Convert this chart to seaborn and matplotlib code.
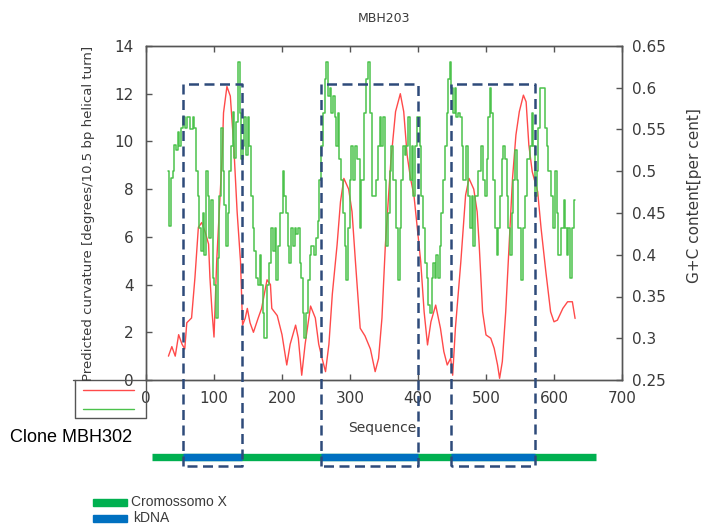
import numpy as np
import pandas as pd
import seaborn as sns
import matplotlib.pyplot as plt
from matplotlib import transforms
from matplotlib.lines import Line2D
from matplotlib.patches import Rectangle

sns.set_theme(style="white")
plt.rcParams['font.family'] = ['DejaVu Sans']

# ---------------- text ----------------
TITLE = "MBH203"
X_LABEL = "Sequence"
Y_LEFT_LABEL = "Predicted curvature [degrees/10.5 bp helical turn]"
Y_RIGHT_LABEL = "G+C content[per cent]"
CLONE_LABEL = "Clone MBH302"
LEGEND_LABELS = ["Cromossomo X", "kDNA"]

# ---------------- ticks ----------------
x_ticks = [0, 100, 200, 300, 400, 500, 600, 700]
left_ticks = [0, 2, 4, 6, 8, 10, 12, 14]
right_ticks = [0.25, 0.30, 0.35, 0.40, 0.45, 0.50, 0.55, 0.60, 0.65]
right_tick_labels = ["0.25", "0.3", "0.35", "0.4", "0.45", "0.5", "0.55", "0.6", "0.65"]

# ---------------- predicted curvature (red) ----------------
curv_pos = [33, 38, 43, 48, 53, 57, 60, 67, 72, 77, 82, 87, 92, 94, 97, 100, 104, 109,
            112, 114, 119, 124, 129, 134, 139, 142, 146, 149, 153, 158, 165, 170, 178,
            183, 185, 193, 200, 207, 212, 220, 224, 229, 234, 242, 249, 254, 259, 264,
            269, 274, 281, 286, 291, 298, 303, 308, 315, 322, 330, 337, 342, 347, 352,
            360, 367, 374, 379, 384, 389, 394, 399, 404, 409, 414, 419, 426, 433, 438,
            443, 448, 451, 455, 463, 470, 475, 482, 487, 490, 495, 500, 507, 512, 517,
            520, 524, 529, 534, 539, 544, 549, 555, 559, 563, 568, 576, 581, 588, 595,
            600, 605, 613, 620, 627, 631]
curv_val = [1.0, 1.4, 1.0, 1.9, 1.5, 1.3, 2.4, 2.6, 4.3, 6.4, 6.6, 6.2, 5.7, 4.3, 2.9, 1.8,
            5.0, 7.75, 9.4, 11.2, 12.3, 11.9, 9.85, 7.05, 4.96, 2.3, 2.6, 3.0, 2.4, 2.0,
            2.6, 3.0, 4.2, 4.0, 3.0, 2.7, 1.9, 0.63, 1.5, 2.3, 1.75, 0.2, 1.5, 3.1, 2.6,
            1.5, 0.9, 0.35, 1.5, 3.6, 5.66, 7.47, 8.45, 8.0, 7.05, 4.96, 2.17, 1.85, 1.3,
            0.35, 0.9, 2.6, 5.66, 9.15, 11.25, 12.0, 11.25, 9.43, 8.45, 7.75, 6.36, 4.96,
            2.86, 1.47, 2.44, 3.14, 2.17, 1.19, 0.63, 0.91, 0.2, 2.17, 4.96, 7.75, 8.45,
            8.0, 7.05, 5.66, 2.86, 1.89, 1.75, 1.33, 0.63, 0.07, 0.77, 2.86, 5.66, 8.45,
            10.27, 11.25, 11.94, 11.66, 9.85, 8.73, 7.89, 6.36, 4.54, 2.86, 2.44, 2.51,
            3.0, 3.28, 3.28, 2.58]

# ---------------- G+C content (green, stepped), in four stretches ----------------
gc_pos_a = [33, 35, 38, 40, 43, 45, 48, 50, 53, 55, 60, 62, 67, 70, 72, 75, 77, 80, 82, 85,
            87, 89, 92, 94, 97, 99, 102, 104, 107, 109, 112, 114, 116, 119, 121, 124, 126,
            129, 131, 134,
            136, 139, 141, 143, 146, 148, 151, 153, 156, 158, 161, 163, 166, 168, 171, 173]
gc_val_a = [.50, .434, .492, .50, .531, .525, .547, .53, .552, .565, .552, .565, .55, .565,
            .552, .50, .47, .432, .404, .45,
            .40, .50, .47, .42, .465, .372, .364, .324, .396, .47, .552, .50, .46, .41, .45,
            .50, .53, .571, .516, .559,
            .631, .57, .515, .53, .565, .52, .565, .53, .47, .432, .404, .372, .364, .40,
            .364, .33]
gc_pos_b = [175, 180, 183, 185, 188, 190, 193, 195, 200, 202, 205, 207, 210, 212, 215, 217,
            220, 222, 225, 227,
            229, 232, 234, 237, 239, 242, 244, 249, 252, 254, 256, 259, 261, 264, 266, 269,
            271, 274, 276, 279,
            281, 283, 286, 288, 291, 293, 296, 298, 301, 303, 306, 308, 313, 315, 318, 323,
            325, 328, 331]
gc_val_b = [.30, .364, .39, .432, .404, .432, .37, .41, .45, .50, .47, .45, .41, .39, .432,
            .41, .432, .425, .432, .39,
            .372, .33, .30, .33, .37, .40, .41, .40, .42, .44, .49, .53, .57, .61, .631, .59,
            .60, .57, .59, .565,
            .53, .57, .515, .49, .45, .41, .37, .432, .49, .53, .49, .53, .515, .432, .49,
            .57, .61, .631, .57]
gc_pos_c = [335, 340, 342, 345, 347, 350, 352, 355, 357, 360, 362, 365, 369, 372, 374, 377,
            379, 382, 384, 387,
            389, 392, 394, 396, 401, 404, 406, 409, 411, 414, 416, 419, 421, 423, 426, 428,
            431, 433, 436, 438,
            441, 443, 446, 448, 450, 453, 455, 458, 460, 463, 465, 468, 473, 475, 478, 480,
            482]
gc_val_c = [.47, .49, .53, .565, .53, .565, .49, .41, .45, .50, .53, .49, .432, .37, .432,
            .49, .53, .52, .53, .565,
            .49, .53, .47, .53, .565, .53, .47, .432, .39, .372, .34, .33, .372, .39, .372,
            .40, .372, .41, .45, .49,
            .53, .57, .61, .631, .60, .57, .60, .565, .57, .565, .53, .49, .53, .47, .432,
            .47, .41]
gc_pos_d = [487, 490, 495, 497, 500, 502, 505, 507, 509, 512, 514, 517, 519, 522, 524, 527,
            529, 532, 534, 536,
            539, 541, 544, 546, 549, 554, 556, 559, 563, 566, 568, 571, 573, 576, 578, 581,
            586, 588, 590, 593,
            598, 600, 603, 605, 608, 613, 615, 618, 620, 622, 625, 627, 631]
gc_val_d = [.47, .50, .53, .49, .47, .515, .565, .60, .57, .49, .432, .40, .432, .47, .515,
            .53, .515, .47, .432, .40,
            .45, .49, .525, .49, .432, .37, .432, .47, .515, .53, .57, .53, .47, .50, .552,
            .60, .60, .552, .53, .50,
            .47, .432, .50, .45, .40, .432, .465, .432, .40, .432, .372, .432, .465]

# ---------------- clone map ----------------
chrom_span = [9, 662]
kdna_start = [55, 258, 449]
kdna_end = [141, 400, 572]

# ---------------- colours ----------------
RED = "#ff4a4a"
GREEN = "#4cc24c"
NAVY = "#2e4b7a"
BAR_GREEN = "#00b050"
BAR_BLUE = "#0070c0"
AXC = "#555555"
TXT = "#3a3a3a"

W, H = 707, 526
fig = plt.figure(figsize=(W / 100, H / 100), dpi=100)


def fx(px):
    return px / W


def fy(py):
    return 1 - py / H


ax = fig.add_axes([fx(146), fy(380), (622 - 146) / W, (380 - 46) / H])
ax2 = ax.twinx()

curv_df = pd.DataFrame({"pos": curv_pos, "curv": curv_val})
gc_df = pd.concat([
    pd.DataFrame({"pos": p, "gc": v})
    for p, v in [(gc_pos_a, gc_val_a), (gc_pos_b, gc_val_b),
                 (gc_pos_c, gc_val_c), (gc_pos_d, gc_val_d)]
], ignore_index=True)

sns.lineplot(data=curv_df, x="pos", y="curv", ax=ax, color=RED, linewidth=1.0,
             estimator=None, sort=False)
sns.lineplot(data=gc_df, x="pos", y="gc", ax=ax2, color=GREEN, linewidth=1.1,
             estimator=None, sort=False, drawstyle="steps-mid")

ax.set_xlim(0, 700)
ax.set_ylim(0, 14)
ax2.set_ylim(0.25, 0.65)
ax.set_xlabel("")
ax.set_ylabel("")
ax2.set_ylabel("")

ax.set_xticks(x_ticks)
ax.set_xticklabels([str(v) for v in x_ticks])
ax.set_yticks(left_ticks)
ax.set_yticklabels([str(v) for v in left_ticks])
ax2.set_yticks(right_ticks)
ax2.set_yticklabels(right_tick_labels)

ax.tick_params(axis="x", direction="in", length=4, width=1, bottom=True, top=True,
               labelsize=11, pad=8, color=AXC, labelcolor=TXT)
ax.tick_params(axis="y", direction="in", length=4, width=1, left=True, right=False,
               labelsize=11, pad=9, color=AXC, labelcolor=TXT)
ax2.tick_params(axis="y", direction="in", length=4, width=1, right=True, left=False,
                labelsize=11, pad=7, color=AXC, labelcolor=TXT)
for a in (ax, ax2):
    for sp in a.spines.values():
        sp.set_color(AXC)
        sp.set_linewidth(1.0)

# extended x-axis and small legend box at lower left
fig.add_artist(Line2D([fx(73), fx(146)], [fy(380), fy(380)], color=AXC, lw=1))
fig.add_artist(Line2D([fx(75), fx(75), fx(146), fx(146)],
                      [fy(380), fy(418), fy(418), fy(380)], color=AXC, lw=1))
fig.add_artist(Line2D([fx(83), fx(134)], [fy(390), fy(390)], color=RED, lw=1))
fig.add_artist(Line2D([fx(83), fx(134)], [fy(409), fy(409)], color=GREEN, lw=1))

# texts
fig.text(fx(384), fy(18), TITLE, ha="center", va="center", fontsize=9, color=TXT)
fig.text(fx(382), fy(428), X_LABEL, ha="center", va="center", fontsize=10, color=TXT)
fig.text(fx(89), fy(213), Y_LEFT_LABEL, ha="center", va="center", rotation=90,
         fontsize=9.5, color=TXT)
fig.text(fx(695), fy(196), Y_RIGHT_LABEL, ha="center", va="center", rotation=90,
         fontsize=11, color=TXT)
fig.text(fx(10), fy(438), CLONE_LABEL, ha="left", va="center", fontsize=13,
         color="black", family=["Liberation Sans"])

# clone map bar and dashed boxes (x in data, y in figure fraction)
blend = transforms.blended_transform_factory(ax2.transData, fig.transFigure)
bar_y = fy(457)
ax2.plot(chrom_span, [bar_y, bar_y], transform=blend, color=BAR_GREEN, lw=5.3,
         solid_capstyle="butt", clip_on=False)
for s, e in zip(kdna_start, kdna_end):
    ax2.plot([s, e], [bar_y, bar_y], transform=blend, color=BAR_BLUE, lw=5.3,
             solid_capstyle="butt", clip_on=False)
box_top, box_bot = fy(84), fy(466)
for s, e in zip(kdna_start, kdna_end):
    ax2.plot([s, s, e, e, s], [box_bot, box_top, box_top, box_bot, box_bot],
             transform=blend, color=NAVY, lw=1.8, ls=(0, (4, 2.2)), clip_on=False,
             zorder=5)

# bottom legend
for i, (lab, col) in enumerate(zip(LEGEND_LABELS, [BAR_GREEN, BAR_BLUE])):
    yc = 502 + 16.5 * i
    fig.add_artist(Rectangle((fx(93), fy(yc + 3.5)), (127 - 93) / W, 7 / H,
                             color=col, transform=fig.transFigure))
    fig.text(fx(131 + 2 * i), fy(yc), lab, ha="left", va="center", fontsize=10,
             color=TXT, family=["Liberation Sans"])

fig.savefig("out.png", dpi=100)
